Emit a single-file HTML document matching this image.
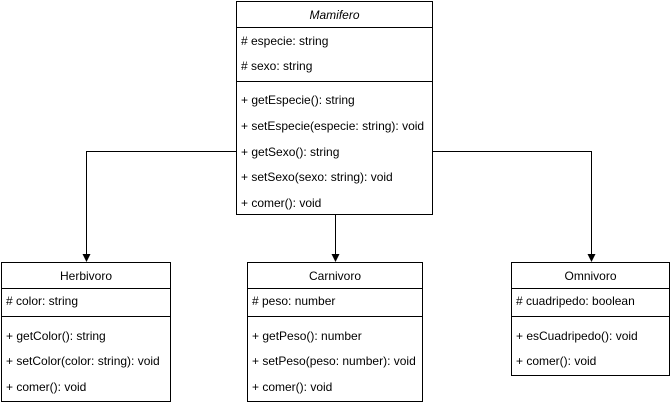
<!DOCTYPE html>
<html><head><style>body{margin:0;background:#fff}svg{display:block}text{font-family:"Liberation Sans",Arial,sans-serif;font-size:12px;fill:#000}</style></head><body>
<svg width="671" height="404" xmlns="http://www.w3.org/2000/svg">
<g fill="none" stroke="#000" stroke-width="1">
<rect x="236.5" y="1.5" width="196" height="213"/>
<line x1="236.5" y1="27.5" x2="432.5" y2="27.5"/>
<line x1="236.5" y1="81.5" x2="432.5" y2="81.5"/>
<rect x="1.5" y="262.5" width="169" height="139"/>
<line x1="1.5" y1="288.5" x2="170.5" y2="288.5"/>
<line x1="1.5" y1="316.5" x2="170.5" y2="316.5"/>
<rect x="247.5" y="262.5" width="175" height="139"/>
<line x1="247.5" y1="288.5" x2="422.5" y2="288.5"/>
<line x1="247.5" y1="316.5" x2="422.5" y2="316.5"/>
<rect x="511.5" y="262.5" width="158" height="113"/>
<line x1="511.5" y1="288.5" x2="669.5" y2="288.5"/>
<line x1="511.5" y1="316.5" x2="669.5" y2="316.5"/>
<polyline points="236.5,151.5 86.5,151.5 86.5,256"/>
<line x1="335.5" y1="214.5" x2="335.5" y2="256"/>
<polyline points="432.5,151.5 591.5,151.5 591.5,256"/>
</g>
<g fill="#000">
<polygon points="82.5,254 90.5,254 86.5,262"/>
<polygon points="331.5,254 339.5,254 335.5,262"/>
<polygon points="587.5,254 595.5,254 591.5,262"/>
</g>
<text x="334.5" y="19" text-anchor="middle" font-style="italic">Mamifero</text>
<text x="241" y="45">#  especie: string</text>
<text x="241" y="70"># sexo: string</text>
<text x="241" y="104">+ getEspecie(): string</text>
<text x="241" y="130">+ setEspecie(especie: string): void</text>
<text x="241" y="156">+ getSexo(): string</text>
<text x="241" y="181">+ setSexo(sexo: string): void</text>
<text x="241" y="207">+ comer(): void</text>
<text x="86" y="280" text-anchor="middle">Herbivoro</text>
<text x="6" y="305"># color: string</text>
<text x="6" y="340">+ getColor(): string</text>
<text x="6" y="365">+ setColor(color: string): void</text>
<text x="6" y="391">+ comer(): void</text>
<text x="335" y="280" text-anchor="middle">Carnivoro</text>
<text x="252" y="305"># peso: number</text>
<text x="252" y="340">+ getPeso(): number</text>
<text x="252" y="365">+ setPeso(peso: number): void</text>
<text x="252" y="391">+ comer(): void</text>
<text x="590.5" y="280" text-anchor="middle">Omnivoro</text>
<text x="516" y="305"># cuadripedo: boolean</text>
<text x="516" y="340">+ esCuadripedo(): void</text>
<text x="516" y="365">+ comer(): void</text>
</svg>
</body></html>
